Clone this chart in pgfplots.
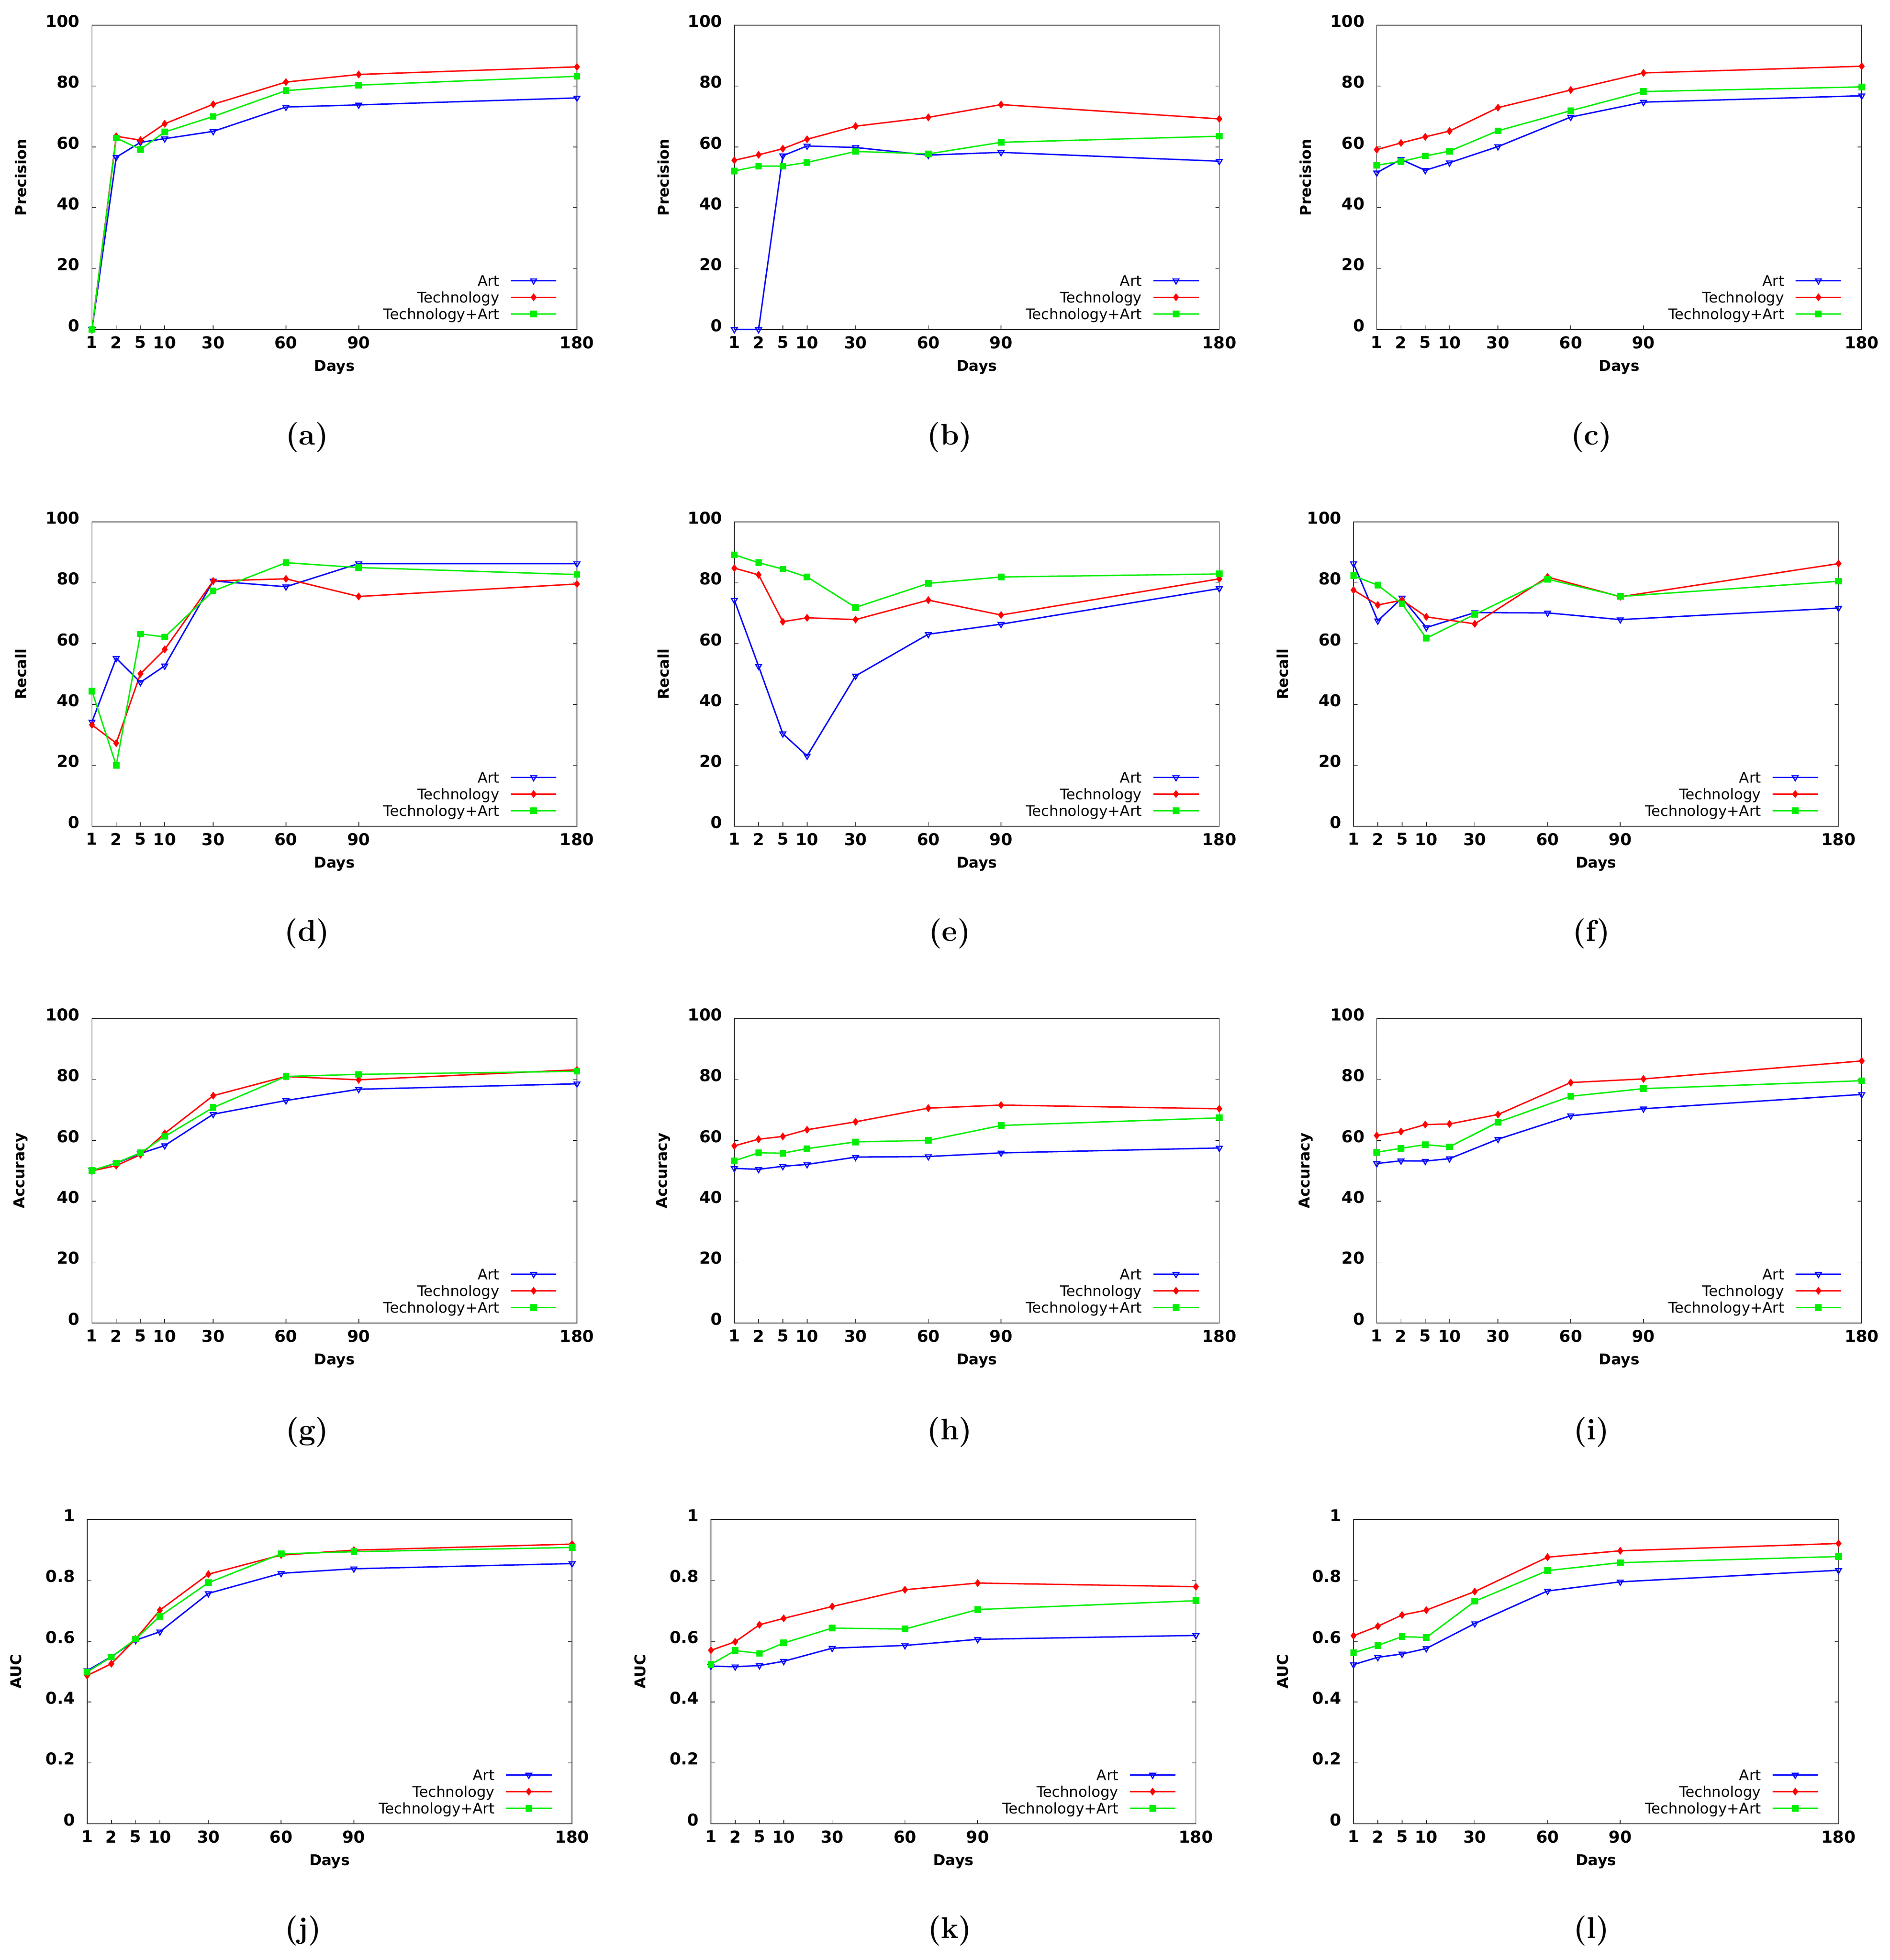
\documentclass[border=0pt]{standalone}
\usepackage{fontspec}
\setsansfont{DejaVu Sans}
\usepackage{pgfplots}
\usepackage{pgfplotstable}
\pgfplotsset{compat=1.18}
\definecolor{cArt}{RGB}{0,0,255}
\definecolor{cTech}{RGB}{255,0,0}
\definecolor{cTA}{RGB}{0,238,0}
\newcommand{\tickfont}{\fontsize{6.56}{7}\selectfont\sffamily\bfseries}
\newcommand{\labfont}{\fontsize{5.95}{7}\selectfont\sffamily\bfseries}
\newcommand{\legfont}{\fontsize{5.85}{6.75}\selectfont\sffamily}
\newcommand{\capfont}{\fontsize{12}{13}\selectfont\rmfamily\bfseries}

% columns: x position (1,2,5,10,30,60,90,180 days placed at -20,-10,0,10,30,60,90,180)
\pgfplotstableread{
x art tech ta
-20 0 0 0
-10 56.6 63.5 62.9
0 61.5 62.2 59.2
10 62.7 67.6 64.9
30 65.1 74.0 70.0
60 73.1 81.3 78.5
90 73.8 83.8 80.3
180 76.1 86.3 83.2
}\tabA
\pgfplotstableread{
x art tech ta
-20 0 55.6 52.1
-10 0 57.4 53.7
0 57.1 59.4 53.7
10 60.3 62.5 54.9
30 59.8 66.8 58.5
60 57.3 69.7 57.7
90 58.2 73.9 61.5
180 55.3 69.2 63.5
}\tabB
\pgfplotstableread{
x art tech ta
-20 51.5 59.1 54.0
-10 55.9 61.3 55.2
0 52.3 63.3 57.0
10 54.8 65.2 58.6
30 60.1 72.9 65.3
60 69.8 78.7 71.9
90 74.7 84.3 78.2
180 76.8 86.5 79.7
}\tabC
\pgfplotstableread{
x art tech ta
-20 34.3 33.3 44.4
-10 55.2 27.3 20.0
0 47.3 50.1 63.2
10 52.7 58.1 62.2
30 80.6 80.6 77.3
60 78.7 81.3 86.6
90 86.3 75.5 85.0
180 86.3 79.6 82.7
}\tabD
\pgfplotstableread{
x art tech ta
-20 74.3 84.8 89.2
-10 52.6 82.6 86.6
0 30.4 67.2 84.5
10 23.1 68.5 81.9
30 49.4 67.9 71.9
60 63.1 74.3 79.8
90 66.4 69.4 81.9
180 78.1 81.3 82.9
}\tabE
\pgfplotstableread{
x art tech ta
-20 86.3 77.6 82.3
-10 67.5 72.7 79.2
0 75.0 74.3 73.1
10 65.3 68.8 61.8
30 70.2 66.5 69.6
60 70.1 81.9 81.2
90 67.9 75.4 75.5
180 71.7 86.3 80.5
}\tabF
\pgfplotstableread{
x art tech ta
-20 50.1 50.0 50.1
-10 52.5 51.7 52.6
0 55.7 55.3 55.9
10 58.3 62.3 61.3
30 68.6 74.7 70.8
60 73.1 81.0 81.0
90 76.8 79.9 81.7
180 78.6 83.2 82.7
}\tabG
\pgfplotstableread{
x art tech ta
-20 50.8 58.2 53.3
-10 50.5 60.4 55.9
0 51.5 61.3 55.8
10 52.1 63.5 57.3
30 54.5 66.1 59.5
60 54.7 70.6 60.0
90 55.9 71.6 64.9
180 57.5 70.4 67.4
}\tabH
\pgfplotstableread{
x art tech ta
-20 52.4 61.6 56.1
-10 53.3 62.9 57.4
0 53.2 65.2 58.6
10 54.0 65.4 57.9
30 60.4 68.5 66.0
60 68.1 79.0 74.5
90 70.4 80.2 77.0
180 75.1 86.1 79.6
}\tabI
\pgfplotstableread{
x art tech ta
-20 0.503 0.487 0.499
-10 0.549 0.526 0.548
0 0.603 0.607 0.607
10 0.631 0.702 0.682
30 0.757 0.820 0.792
60 0.823 0.883 0.887
90 0.838 0.899 0.894
180 0.855 0.919 0.908
}\tabJ
\pgfplotstableread{
x art tech ta
-20 0.518 0.570 0.524
-10 0.516 0.598 0.569
0 0.520 0.654 0.560
10 0.534 0.675 0.594
30 0.577 0.714 0.643
60 0.586 0.769 0.640
90 0.606 0.791 0.704
180 0.619 0.779 0.733
}\tabK
\pgfplotstableread{
x art tech ta
-20 0.523 0.618 0.562
-10 0.547 0.649 0.586
0 0.558 0.686 0.615
10 0.576 0.702 0.612
30 0.658 0.763 0.731
60 0.765 0.876 0.832
90 0.795 0.897 0.858
180 0.833 0.921 0.878
}\tabL

\pgfplotsset{
  panel/.style={
    scale only axis, width=194.13pt, height=121.86pt,
    anchor=south west,
    xmin=-20, xmax=180, ymin=0, ymax=100,
    xtick={-20,-10,0,10,30,60,90,180},
    xticklabels={1,2,5,10,30,60,90,180},
    ytick={0,20,40,60,80,100},
    xtick pos=left, ytick pos=both,
    tick align=inside, major tick length=1.6pt,
    tick style={black!80, line width=0.3pt},
    axis line style={black!80, line width=0.3pt},
    clip=false,
    /pgf/number format/assume math mode=true,
    xticklabel style={font=\tickfont, inner sep=0pt, anchor=north, yshift=-2.5pt},
    yticklabel style={font=\tickfont, inner sep=0pt, anchor=east, xshift=-4.7pt, yshift=1.6pt},
    xlabel={Days},
    xlabel style={font=\labfont, at={(axis description cs:0.5,-0.124)}, anchor=center},
    ylabel style={font=\labfont, at={(axis description cs:-0.1465,0.5)}, anchor=center},
    legend style={draw=none, fill=none, font=\legfont, at={(0.959,0)}, anchor=south east,
      yshift=4.1pt, inner sep=0pt, outer sep=0pt, row sep=2.35pt, column sep=4.32pt,
      nodes={inner sep=0pt, text height=4.3pt, text depth=0pt}},
    legend cell align=right,
    legend plot pos=right,
    legend image code/.code={\draw[mark repeat=2,mark phase=2,##1] plot coordinates {(0pt,0pt)(9.1pt,0pt)(18.2pt,0pt)};},
  },
  auc/.style={ymin=0, ymax=1, ytick={0,0.2,0.4,0.6,0.8,1}},
  art/.style={color=cArt, line width=0.55pt, mark=triangle, mark size=1.35pt, mark options={rotate=180, solid, line width=0.45pt}},
  tech/.style={color=cTech, line width=0.55pt, mark=diamond*, mark size=1.15pt, mark options={solid}},
  ta/.style={color=cTA, line width=0.55pt, mark=square*, mark size=1.05pt, mark options={solid}},
}

\newcommand{\panel}[5]{%
\begin{axis}[panel, at={(#1pt,#2pt)}, ylabel={#3}, #5]
\addplot[art] table[x=x,y=art]{#4};
\addlegendentry{Art}
\addplot[tech] table[x=x,y=tech]{#4};
\addlegendentry{Technology}
\addplot[ta] table[x=x,y=ta]{#4};
\addlegendentry{Technology+Art}
\end{axis}}

\begin{document}
\begin{tikzpicture}
\path[use as bounding box] (0,0) rectangle (756.54pt,784.8pt);
\panel{36.81}{652.86}{Precision}{\tabA}{}
\panel{293.94}{652.86}{Precision}{\tabB}{}
\panel{551.09}{652.86}{Precision}{\tabC}{}
\panel{36.81}{453.96}{Recall}{\tabD}{}
\panel{293.94}{453.96}{Recall}{\tabE}{}
\panel{541.8}{453.96}{Recall}{\tabF}{}
\panel{36.81}{255.06}{Accuracy}{\tabG}{}
\panel{293.94}{255.06}{Accuracy}{\tabH}{}
\panel{551.09}{255.06}{Accuracy}{\tabI}{}
\panel{34.875}{54.54}{AUC}{\tabJ}{auc}
\panel{284.58}{54.54}{AUC}{\tabK}{auc}
\panel{541.8}{54.54}{AUC}{\tabL}{auc}
\node[font=\capfont] at (122.94pt,609.66pt) {(a)};
\node[font=\capfont] at (380.16pt,609.66pt) {(b)};
\node[font=\capfont] at (637.02pt,609.66pt) {(c)};
\node[font=\capfont] at (122.94pt,410.94pt) {(d)};
\node[font=\capfont] at (380.16pt,410.94pt) {(e)};
\node[font=\capfont] at (637.02pt,410.94pt) {(f)};
\node[font=\capfont] at (122.94pt,211.32pt) {(g)};
\node[font=\capfont] at (380.16pt,211.32pt) {(h)};
\node[font=\capfont] at (637.02pt,211.32pt) {(i)};
\node[font=\capfont] at (121.32pt,11.7pt) {(j)};
\node[font=\capfont] at (380.16pt,11.7pt) {(k)};
\node[font=\capfont] at (637.02pt,11.7pt) {(l)};
\end{tikzpicture}
\end{document}
